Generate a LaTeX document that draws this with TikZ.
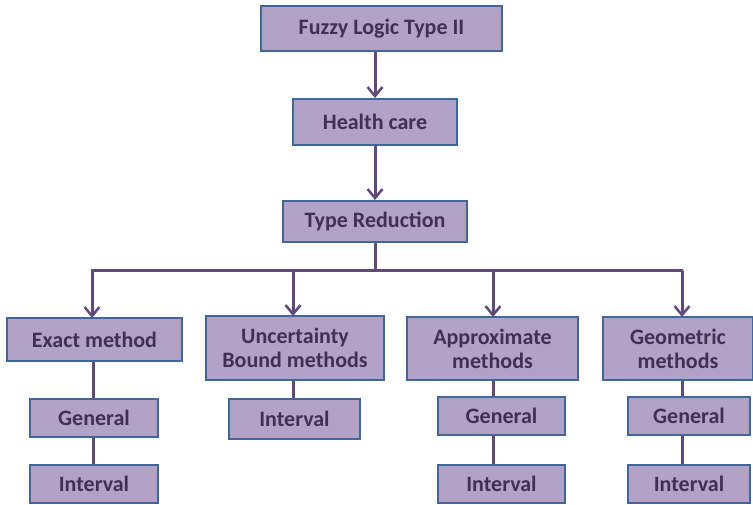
\documentclass[tikz,border=0pt]{standalone}
\usepackage{fontspec}
\setmainfont{Carlito}
\usetikzlibrary{arrows.meta}
\definecolor{boxfill}{HTML}{B3A2C7}
\definecolor{boxline}{HTML}{41679A}
\definecolor{boxtext}{HTML}{3F3151}
\definecolor{linkcol}{HTML}{604A7B}
\tikzset{
  box/.style={draw=boxline, fill=boxfill, line width=2pt, text=boxtext,
    font=\bfseries\fontsize{22}{24}\selectfont, align=center, inner sep=0pt},
  link/.style={draw=linkcol, line width=3pt},
  arr/.style={link, -{Straight Barb[length=9pt,width=15pt,line width=2.5pt]}},
}
\begin{document}
\begin{tikzpicture}[x=1pt,y=-1pt]
\useasboundingbox (0,0) rectangle (753,505);
% top chain
\node[box, minimum width=241, minimum height=45] (root) at (381.5,28.5) {Fuzzy Logic Type II};
\node[box, minimum width=164, minimum height=46] (hc) at (375,122) {Health care};
\node[box, minimum width=184, minimum height=41] (tr) at (375,221.5) {Type Reduction};
% method boxes
\node[box, minimum width=175, minimum height=43] (exact) at (94.5,339.5) {Exact method};
\node[box, minimum width=178, minimum height=64] (unc) at (295,348) {Uncertainty\\Bound methods};
\node[box, minimum width=171, minimum height=63] (appr) at (492.5,348.5) {Approximate\\methods};
\node[box, minimum width=150, minimum height=63] (geom) at (678,348.5) {Geometric\\methods};
% leaf boxes
\node[box, minimum width=128, minimum height=38] (exg) at (94,418) {General};
\node[box, minimum width=128, minimum height=38] (exi) at (94,484) {Interval};
\node[box, minimum width=131, minimum height=40] (uni) at (294.5,419) {Interval};
\node[box, minimum width=127, minimum height=38] (apg) at (501.5,416) {General};
\node[box, minimum width=127, minimum height=38] (api) at (501.5,484) {Interval};
\node[box, minimum width=122, minimum height=38] (geg) at (689,416) {General};
\node[box, minimum width=122, minimum height=38] (gei) at (689,484) {Interval};
% branch point under Type Reduction
\coordinate (bus) at (375,271);
% arrows down the chain
\draw[arr] (root.south -| hc.north) -- (hc.north);
\draw[arr] (hc) -- (tr);
% bus to the four methods
\draw[link] (tr.south) -- (bus);
\draw[link, line cap=round] (bus -| 92,0) -- (bus -| 682,0);
\draw[arr] (bus -| 92,0) -- (92,318);
\draw[arr] (bus -| 293,0) -- (293,316);
\draw[arr] (bus -| 493,0) -- (493,317);
\draw[arr] (bus -| 682,0) -- (682,317);
% leaf connectors
\draw[link] (exact.south -| 93,0) -- (exg.north -| 93,0);
\draw[link] (exg.south -| 93,0) -- (exi.north -| 93,0);
\draw[link] (unc.south -| 293,0) -- (uni.north -| 293,0);
\draw[link] (appr.south -| 493,0) -- (apg.north -| 493,0);
\draw[link] (apg.south -| 493,0) -- (api.north -| 493,0);
\draw[link] (geom.south -| 682,0) -- (geg.north -| 682,0);
\draw[link] (geg.south -| 682,0) -- (gei.north -| 682,0);
\end{tikzpicture}
\end{document}
